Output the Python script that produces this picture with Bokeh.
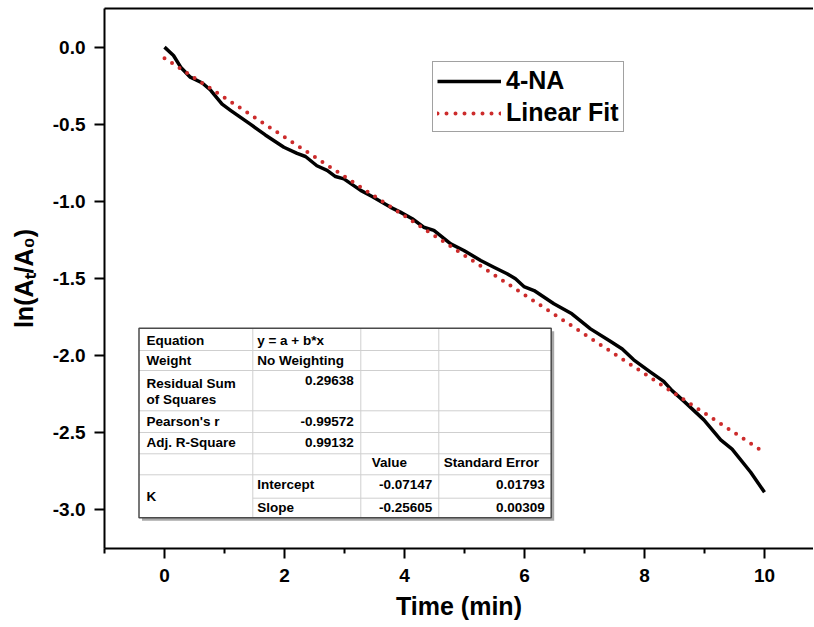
import numpy as np
from bokeh.plotting import figure
from bokeh.models import (Range1d, FixedTicker, LinearAxis, NumeralTickFormatter,
                          Legend, LegendItem, ColumnDataSource)
from bokeh.core.properties import value
from bokeh.embed import file_html
from bokeh.resources import INLINE

# ---------------- data ----------------
time_min = [0.0, 0.15, 0.27, 0.43, 0.63, 0.77, 0.96, 1.10, 1.43, 1.68, 1.99, 2.21,
            2.35, 2.54, 2.71, 2.85, 2.99, 3.27, 3.46, 3.77, 3.93, 4.13, 4.32, 4.49,
            4.77, 4.99, 5.27, 5.49, 5.71, 5.85, 5.99, 6.16, 6.49, 6.79, 7.10, 7.43,
            7.63, 7.82, 8.10, 8.32, 8.46, 8.66, 8.99, 9.27, 9.46, 9.77, 10.0]
ln_ratio = [0.0, -0.054, -0.13, -0.195, -0.233, -0.28, -0.37, -0.41, -0.50, -0.57,
            -0.65, -0.69, -0.71, -0.77, -0.80, -0.84, -0.855, -0.93, -0.97, -1.04,
            -1.071, -1.114, -1.169, -1.19, -1.277, -1.32, -1.385, -1.429, -1.471,
            -1.504, -1.554, -1.58, -1.666, -1.731, -1.829, -1.91, -1.96, -2.03,
            -2.11, -2.17, -2.23, -2.30, -2.42, -2.55, -2.61, -2.76, -2.89]
fit_time = [0.0, 10.0]
fit_ln = [-0.0715, -2.632]

x_ticks = [0, 2, 4, 6, 8, 10]
x_minor_ticks = [-1, 1, 3, 5, 7, 9]
y_ticks = [-3.0, -2.5, -2.0, -1.5, -1.0, -0.5, 0.0]

series_names = ["4-NA", "Linear Fit"]

table_col1 = ["Equation", "Weight", "Residual Sum", "of Squares", "Pearson's r",
              "Adj. R-Square", "K"]
table_col2_text = ["y = a + b*x", "No Weighting", "Intercept", "Slope"]
table_col2_num = ["0.29638", "-0.99572", "0.99132"]
table_col3_head = ["Value"]
table_col3_num = ["-0.07147", "-0.25605"]
table_col4_head = ["Standard Error"]
table_col4_num = ["0.01793", "0.00309"]

FONT = "Liberation Sans"

# ---------------- figure ----------------
X0, X1 = -1.0, 10.817
Y0, Y1 = -3.255, 0.251
FW, FH = 709, 540
p = figure(frame_width=FW, frame_height=FH, x_range=Range1d(X0, X1),
           y_range=Range1d(Y0, Y1), output_backend="svg", toolbar_location=None,
           min_border_left=104, min_border_right=0, min_border_top=8,
           min_border_bottom=0, background_fill_color="white")
p.outline_line_color = None
p.xgrid.grid_line_color = None
p.ygrid.grid_line_color = None

XPX = FW / (X1 - X0)
YPX = FH / (Y1 - Y0)


# page px helpers (frame left at page 104, top at page 8)
def px(page_x):
    return X0 + (page_x - 104) / XPX


def py(page_y):
    return Y1 - (page_y - 8) / YPX


# axes styling
for ax in (p.xaxis[0], p.yaxis[0]):
    ax.axis_line_width = 2
    ax.major_tick_line_width = 2
    ax.minor_tick_line_width = 2
    ax.major_tick_out = 10
    ax.major_tick_in = 0
    ax.minor_tick_out = 5
    ax.minor_tick_in = 0
    ax.major_label_text_font = FONT
    ax.major_label_text_font_style = "bold"
    ax.major_label_text_font_size = "19px"
    ax.major_label_text_color = "black"
    ax.axis_line_color = "black"
    ax.major_tick_line_color = "black"
    ax.minor_tick_line_color = "black"
    ax.axis_label_text_font = FONT
    ax.axis_label_text_font_style = "bold"
    ax.axis_label_text_font_size = "25px"
    ax.axis_label_text_color = "black"

p.xaxis.ticker = FixedTicker(ticks=x_ticks, minor_ticks=x_minor_ticks)
p.xaxis.major_label_standoff = 10
p.xaxis.axis_label = "Time (min)"
p.xaxis.axis_label_standoff = 7

p.yaxis.ticker = FixedTicker(ticks=y_ticks, minor_ticks=[])
p.yaxis.formatter = NumeralTickFormatter(format="0.0")
p.yaxis.major_label_standoff = 9
p.yaxis.axis_label = "ln(A\u209c/A\u2080)"
p.yaxis.axis_label_standoff = 12

top_axis = LinearAxis(ticker=FixedTicker(ticks=[], minor_ticks=[]),
                      axis_line_width=2, axis_line_color="black",
                      major_tick_out=0, major_tick_in=0, minor_tick_out=0,
                      minor_tick_in=0, major_label_text_font_size="0px",
                      major_label_standoff=0)
p.add_layout(top_axis, "above")

# ---------------- data lines ----------------
src = ColumnDataSource(dict(t=time_min, y=ln_ratio))
r_data = p.line("t", "y", source=src, line_color="black", line_width=3.5,
                line_join="round")
r_fit = p.line(fit_time, fit_ln, line_color="#cc2b2b", line_width=4,
               line_dash="0 9", line_cap="round")

# ---------------- legend ----------------
legend = Legend(items=[LegendItem(label=series_names[0], renderers=[r_data]),
                       LegendItem(label=series_names[1], renderers=[r_fit])],
                location=(328, 416))
legend.label_text_font = FONT
legend.label_text_font_style = "bold"
legend.label_text_font_size = "25px"
legend.label_text_color = "black"
legend.glyph_width = 64
legend.glyph_height = 24
legend.label_height = 24
legend.label_standoff = 5
legend.padding = 4
legend.spacing = 3
legend.margin = 0
legend.border_line_color = "#444444"
legend.border_line_width = 1.5
legend.background_fill_color = "white"
legend.background_fill_alpha = 1.0
p.add_layout(legend)

# ---------------- fit results table ----------------
cols = [138.5, 252.3, 360.3, 438.3, 550.7]
rows = [327.7, 350, 370, 410.3, 432, 453.3, 474.3, 497.7, 517.3]

# shadow + background
p.quad(left=[px(cols[0] + 3)], right=[px(cols[-1] + 3)], top=[py(rows[0] + 3)],
       bottom=[py(rows[-1] + 3)], fill_color="#a8a8a8", line_color=None)
p.quad(left=[px(cols[0])], right=[px(cols[-1])], top=[py(rows[0])],
       bottom=[py(rows[-1])], fill_color="white", line_color=None)

hx0, hx1, hy = [], [], []
for r in rows[1:7]:
    hx0.append(px(cols[0])); hx1.append(px(cols[-1])); hy.append(py(r))
hx0.append(px(cols[1])); hx1.append(px(cols[-1])); hy.append(py(rows[7]))
p.segment(x0=hx0, x1=hx1, y0=hy, y1=hy, line_color="#cfcfcf", line_width=1)
vx = [px(c) for c in cols[1:4]]
p.segment(x0=vx, x1=vx, y0=[py(rows[0])] * 3, y1=[py(rows[-1])] * 3,
          line_color="#cfcfcf", line_width=1)
p.quad(left=[px(cols[0])], right=[px(cols[-1])], top=[py(rows[0])],
       bottom=[py(rows[-1])], fill_color=None, line_color="#4a4a4a",
       line_width=1.5)


def table_text(texts, page_x, page_ys, align):
    p.text(x=[px(page_x)] * len(texts), y=[py(v) for v in page_ys], text=texts,
           text_font=value(FONT), text_font_style="bold",
           text_font_size="13.5px", text_color="black", text_align=align,
           text_baseline="middle")


table_text(table_col1, 146, [339.5, 360, 383, 399, 421, 442, 496], "left")
table_text(table_col2_text, 256.7, [339.5, 360, 484, 507], "left")
table_text(table_col2_num, 353.3, [380, 421, 442], "right")
table_text(table_col3_head, 371.3, [462], "left")
table_text(table_col3_num, 431.7, [484, 507], "right")
table_text(table_col4_head, 443.3, [462], "left")
table_text(table_col4_num, 544.3, [484, 507], "right")

open("out.html", "w").write(file_html(p, INLINE))
